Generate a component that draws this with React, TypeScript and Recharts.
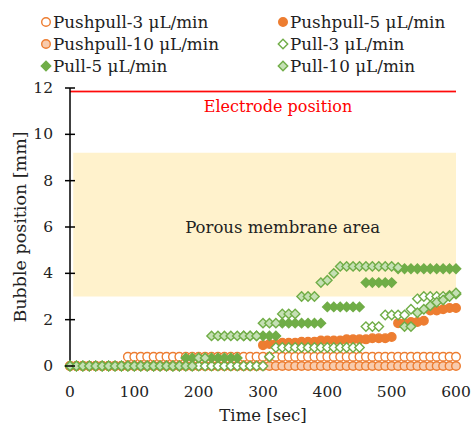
import React from 'react';
import {
  ScatterChart,
  Scatter,
  XAxis,
  YAxis,
  ReferenceArea,
  ReferenceLine,
  Label,
} from 'recharts';

document.body.style.margin = '0';

// time [sec], one reading every 10 s
const TIME = [
  0, 10, 20, 30, 40, 50, 60, 70, 80, 90,
  100, 110, 120, 130, 140, 150, 160, 170, 180, 190,
  200, 210, 220, 230, 240, 250, 260, 270, 280, 290,
  300, 310, 320, 330, 340, 350, 360, 370, 380, 390,
  400, 410, 420, 430, 440, 450, 460, 470, 480, 490,
  500, 510, 520, 530, 540, 550, 560, 570, 580, 590,
  600,
];

const PUSHPULL_3 = [
  0, 0, 0, 0, 0, 0, 0, 0, 0, 0.4,
  0.4, 0.4, 0.4, 0.4, 0.4, 0.4, 0.4, 0.4, 0.4, 0.4,
  0.4, 0.4, 0.4, 0.4, 0.4, 0.4, 0.4, 0.4, 0.4, 0.4,
  0.4, 0.4, 0.4, 0.4, 0.4, 0.4, 0.4, 0.4, 0.4, 0.4,
  0.4, 0.4, 0.4, 0.4, 0.4, 0.4, 0.4, 0.4, 0.4, 0.4,
  0.4, 0.4, 0.4, 0.4, 0.4, 0.4, 0.4, 0.4, 0.4, 0.4,
  0.4,
];

const PUSHPULL_5 = [
  0, 0, 0, 0, 0, 0, 0, 0, 0, 0,
  0, 0, 0, 0, 0, 0, 0, 0, 0, 0,
  0, 0, 0, 0, 0, 0, 0, 0, 0, 0,
  0.9, 0.95, 0.95, 1.0, 1.0, 1.0, 1.05, 1.05, 1.05, 1.1,
  1.1, 1.1, 1.1, 1.15, 1.15, 1.15, 1.15, 1.2, 1.2, 1.2,
  1.25, 1.85, 1.85, 1.9, 1.9, 1.95, 2.4, 2.4, 2.45, 2.5,
  2.5,
];

const PUSHPULL_10 = [
  0, 0, 0, 0, 0, 0, 0, 0, 0, 0,
  0, 0, 0, 0, 0, 0, 0, 0, 0, 0,
  0, 0, 0, 0, 0, 0, 0, 0, 0, 0,
  0, 0, 0, 0, 0, 0, 0, 0, 0, 0,
  0, 0, 0, 0, 0, 0, 0, 0, 0, 0,
  0, 0, 0, 0, 0, 0, 0, 0, 0, 0,
  0,
];

const PULL_3 = [
  0, 0, 0, 0, 0, 0, 0, 0, 0, 0,
  0, 0, 0, 0, 0, 0, 0, 0, 0, 0,
  0, 0, 0, 0, 0, 0, 0, 0, 0, 0,
  0, 0.4, 0.8, 0.8, 0.8, 0.8, 0.8, 0.8, 0.8, 0.8,
  0.8, 0.8, 0.8, 0.8, 0.8, 0.8, 1.7, 1.7, 1.7, 2.2,
  2.2, 2.2, 2.2, 2.45, 2.9, 3.0, 3.0, 3.0, 3.0, 3.05,
  3.1,
];

const PULL_5 = [
  0, 0, 0, 0, 0, 0, 0, 0, 0, 0,
  0, 0, 0, 0, 0, 0, 0, 0, 0.35, 0.35,
  0.35, 0.35, 0.35, 0.35, 0.35, 0.35, 0.35, 1.3, 1.3, 1.3,
  1.3, 1.3, 1.3, 1.85, 1.85, 1.85, 1.85, 1.85, 1.85, 1.85,
  2.55, 2.55, 2.55, 2.55, 2.55, 2.55, 3.6, 3.6, 3.6, 3.6,
  3.6, 4.2, 4.2, 4.2, 4.2, 4.2, 4.2, 4.2, 4.2, 4.2,
  4.2,
];

const PULL_10 = [
  0, 0, 0, 0, 0, 0, 0, 0, 0, 0,
  0, 0, 0, 0, 0, 0, 0, 0, 0, 0,
  0.35, 0.35, 1.3, 1.3, 1.3, 1.3, 1.3, 1.3, 1.3, 1.3,
  1.85, 1.85, 1.85, 2.25, 2.25, 2.25, 3.0, 3.0, 3.0, 3.6,
  3.7, 4.0, 4.3, 4.3, 4.3, 4.3, 4.3, 4.3, 4.3, 4.3,
  4.3, 4.25, 1.7, 1.7, 2.3, 2.45, 2.6, 2.75, 2.85, 3.0,
  3.15,
];

const X_TICKS = [0, 100, 200, 300, 400, 500, 600];
const Y_TICKS = [0, 2, 4, 6, 8, 10, 12];

const ELECTRODE = 11.85;
const MEMBRANE = [3, 9.2];

const ORANGE = '#ED7D31';
const GREEN = '#70AD47';
const FONT = '"DejaVu Serif", "Liberation Serif", serif';

const toPoints = (vals: number[]) => TIME.map((t, i) => ({ x: t, y: vals[i] }));

const circle = (fill: string) => (p: any) => (
  <circle cx={p.cx} cy={p.cy} r={4.3} fill={fill} stroke={ORANGE} strokeWidth={1.4} />
);

const diamond = (fill: string) => (p: any) => {
  const s = 4.7;
  return (
    <path
      d={`M${p.cx},${p.cy - s}L${p.cx + s},${p.cy}L${p.cx},${p.cy + s}L${p.cx - s},${p.cy}Z`}
      fill={fill}
      stroke={GREEN}
      strokeWidth={1.4}
    />
  );
};

const SERIES = [
  { name: 'Pushpull-3 μL/min', data: PUSHPULL_3, kind: 'c', fill: '#FFFFFF' },
  { name: 'Pushpull-5 μL/min', data: PUSHPULL_5, kind: 'c', fill: ORANGE },
  { name: 'Pushpull-10 μL/min', data: PUSHPULL_10, kind: 'c', fill: '#F8CBAD' },
  { name: 'Pull-3 μL/min', data: PULL_3, kind: 'd', fill: '#FFFFFF' },
  { name: 'Pull-5 μL/min', data: PULL_5, kind: 'd', fill: GREEN },
  { name: 'Pull-10 μL/min', data: PULL_10, kind: 'd', fill: '#C5E0B4' },
];

const YTick = (props: any) => {
  const { x, y, payload } = props;
  return (
    <g>
      <line x1={x + 12} x2={x + 22} y1={y} y2={y} stroke="#000" strokeWidth={1.5} />
      <text x={x} y={y} textAnchor="end" dominantBaseline="central" fontSize={15.5} fill="#222" fontFamily={FONT}>
        {payload.value}
      </text>
    </g>
  );
};

const LegendBox = () => (
  <div
    style={{
      position: 'absolute',
      top: 11,
      left: 40,
      display: 'grid',
      gridTemplateColumns: '237px 200px',
      fontFamily: FONT,
      fontSize: 16.8,
      color: '#222',
      lineHeight: '22px',
    }}
  >
    {SERIES.map((s) => (
      <div key={s.name} style={{ display: 'flex', alignItems: 'center', whiteSpace: 'nowrap' }}>
        <svg width={12} height={12} style={{ marginRight: 1 }}>
          {s.kind === 'c'
            ? circle(s.fill)({ cx: 6, cy: 6 })
            : diamond(s.fill)({ cx: 6, cy: 6 })}
        </svg>
        {s.name}
      </div>
    ))}
  </div>
);

export default function App() {
  return (
    <div style={{ position: 'relative', width: 471, height: 426, background: '#fff' }}>
      <ScatterChart width={471} height={426} margin={{ top: 88, right: 15, bottom: 0, left: 0 }}>
        <XAxis
          type="number"
          dataKey="x"
          domain={[0, 600]}
          ticks={X_TICKS}
          axisLine={false}
          tickLine={false}
          tickSize={0}
          tickMargin={20}
          height={60}
          tick={{ fontSize: 15.5, fill: '#222', fontFamily: FONT }}
        >
          <Label
            content={(p: any) => {
              const vb = p.viewBox;
              return (
                <text x={vb.x + vb.width / 2} y={vb.y + 49} textAnchor="middle" dominantBaseline="central" fontSize={16.5} fill="#222" fontFamily={FONT}>
                  Time [sec]
                </text>
              );
            }}
          />
        </XAxis>
        <YAxis
          type="number"
          dataKey="y"
          domain={[0, 12]}
          ticks={Y_TICKS}
          width={70}
          tickSize={5}
          tickMargin={12}
          tickLine={false}
          axisLine={{ stroke: '#000', strokeWidth: 1.5 }}
          tick={<YTick />}
        >
          <Label
            content={(p: any) => {
              const vb = p.viewBox;
              const cx = vb.x + 20;
              const cy = vb.y + vb.height / 2;
              return (
                <text x={cx} y={cy} transform={`rotate(-90 ${cx} ${cy})`} textAnchor="middle" dominantBaseline="central" fontSize={17.5} fill="#222" fontFamily={FONT}>
                  Bubble position [mm]
                </text>
              );
            }}
          />
        </YAxis>
        <ReferenceArea
          x1={5}
          x2={600}
          y1={MEMBRANE[0]}
          y2={MEMBRANE[1]}
          fill="#FFF2CC"
          fillOpacity={1}
          stroke="none"
          label={(p: any) => {
            const vb = p.viewBox;
            return (
              <text x={vb.x + vb.width / 2 + 18} y={vb.y + vb.height / 2 + 3} textAnchor="middle" dominantBaseline="central" fontSize={16.5} fill="#222" fontFamily={FONT}>
                Porous membrane area
              </text>
            );
          }}
        />
        <ReferenceLine
          segment={[{ x: 0, y: ELECTRODE }, { x: 600, y: ELECTRODE }]}
          stroke="#FF0000"
          strokeOpacity={0.8}
          strokeWidth={1.3}
          ifOverflow="visible"
        />
        <ReferenceLine
          y={ELECTRODE}
          stroke="#FF0000"
          strokeOpacity={0.8}
          strokeWidth={1.3}
          label={(p: any) => {
            const vb = p.viewBox;
            return (
              <text x={vb.x + vb.width / 2 + 15} y={vb.y + 15} textAnchor="middle" dominantBaseline="central" fontSize={16} fill="#FF0000" fontFamily={FONT}>
                Electrode position
              </text>
            );
          }}
        />
        {SERIES.map((s) => (
          <Scatter
            key={s.name}
            name={s.name}
            data={toPoints(s.data)}
            shape={s.kind === 'c' ? circle(s.fill) : diamond(s.fill)}
            isAnimationActive={false}
          />
        ))}
      </ScatterChart>
      <LegendBox />
    </div>
  );
}
